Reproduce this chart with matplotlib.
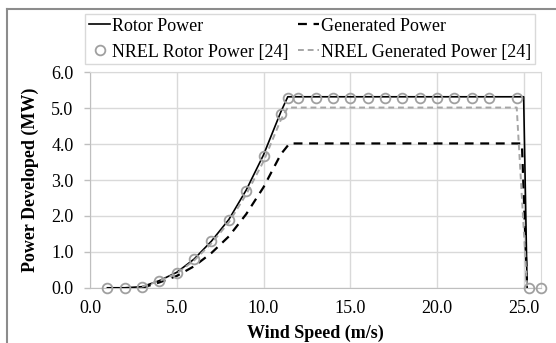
import matplotlib.pyplot as plt
from matplotlib.lines import Line2D

# rotor power curve (this model)
rotor_speed = [1, 2, 3, 4, 5, 6, 7, 8, 9, 10, 11, 11.4, 25.0, 25.2]
rotor_power = [0, 0, 0.03, 0.2, 0.43, 0.8, 1.3, 1.9, 2.72, 3.7, 4.9, 5.32, 5.32, 0]

# generated (electrical) power
gen_speed = [3, 4, 5, 6, 7, 8, 9, 10, 11, 11.5, 24.9, 25.2]
gen_power = [0, 0.15, 0.33, 0.6, 0.97, 1.43, 2.05, 2.8, 3.72, 4.02, 4.02, 0]

# NREL reference values [24]
nrel_rotor_speed = [1, 2, 3, 4, 5, 6, 7, 8, 9, 10, 11, 11.4, 12, 13, 14, 15, 16,
                    17, 18, 19, 20, 21, 22, 23, 24.6, 25.3, 26]
nrel_rotor_power = [0, 0, 0.03, 0.2, 0.42, 0.79, 1.29, 1.89, 2.7, 3.66, 4.85, 5.3,
                    5.3, 5.3, 5.3, 5.3, 5.3, 5.3, 5.3, 5.3, 5.3, 5.3, 5.3, 5.3,
                    5.3, 0, 0]
nrel_gen_speed = [3, 4, 5, 6, 7, 8, 9, 10, 11, 11.4, 24.6, 25.2]
nrel_gen_power = [0.03, 0.19, 0.4, 0.76, 1.24, 1.82, 2.6, 3.52, 4.68, 5.02, 5.02, 0]

x_ticks = [0, 5, 10, 15, 20, 25]
y_ticks = [0, 1, 2, 3, 4, 5, 6]

plt.rcParams['font.family'] = ['Liberation Serif', 'DejaVu Serif']

fig = plt.figure(figsize=(5.56, 3.43), dpi=100)
ax = fig.add_axes([0.162, 0.161, 0.811, 0.628])

grid_c = '#d9d9d9'
ax.plot(rotor_speed, rotor_power, '-', color='black', lw=1.2, label='Rotor Power', zorder=3)
ax.plot(gen_speed, gen_power, color='black', lw=1.6, dashes=(4, 3),
        label='Generated Power', zorder=3)
ax.plot(nrel_gen_speed, nrel_gen_power, color='#a6a6a6', lw=1.4, dashes=(3, 2),
        label='NREL Generated Power [24]', zorder=3)
ax.plot(nrel_rotor_speed, nrel_rotor_power, 'o', ls='none', ms=7, mfc='none',
        mec='#a0a0a0', mew=1.3, label='NREL Rotor Power [24]', zorder=4, clip_on=False)

ax.set_xlim(0, 26)
ax.set_ylim(0, 6)
ax.set_xticks(x_ticks)
ax.set_yticks(y_ticks)
ax.set_xticklabels([f'{v:.1f}' for v in x_ticks])
ax.set_yticklabels([f'{v:.1f}' for v in y_ticks])
ax.grid(True, color=grid_c, lw=1.0)
ax.set_axisbelow(True)
for s in ax.spines.values():
    s.set_color(grid_c)
ax.spines['left'].set_color('#bfbfbf')
ax.spines['bottom'].set_color('#bfbfbf')
ax.tick_params(axis='both', labelsize=13, color='#bfbfbf', length=4, width=1, pad=8)
ax.tick_params(axis='x', length=0, pad=9)

ax.set_xlabel('Wind Speed (m/s)', fontsize=13, fontweight='bold', labelpad=5)
ax.set_ylabel('Power Developed (MW)', fontsize=13, fontweight='bold', labelpad=9)

h, l = ax.get_legend_handles_labels()
order = [0, 3, 1, 2]
leg = fig.legend([h[i] for i in order], [l[i] for i in order], ncol=2,
                 loc='upper left', bbox_to_anchor=(0.153, 0.805, 0.809, 0.154),
                 mode='expand', fontsize=13, frameon=True, fancybox=False,
                 edgecolor='#d0d0d0', handlelength=1.2, handletextpad=0.1,
                 borderpad=0.2, labelspacing=0.5, borderaxespad=0)
leg.get_frame().set_linewidth(1.0)

# outer chart frame
fig.add_artist(Line2D([7 / 556, 7 / 556], [0, 1 - 9 / 343], transform=fig.transFigure,
                      color='#8c8c8c', lw=1.5))
fig.add_artist(Line2D([7 / 556, 1], [1 - 9 / 343, 1 - 9 / 343], transform=fig.transFigure,
                      color='#8c8c8c', lw=1.5))

fig.savefig('out.png', dpi=100)
